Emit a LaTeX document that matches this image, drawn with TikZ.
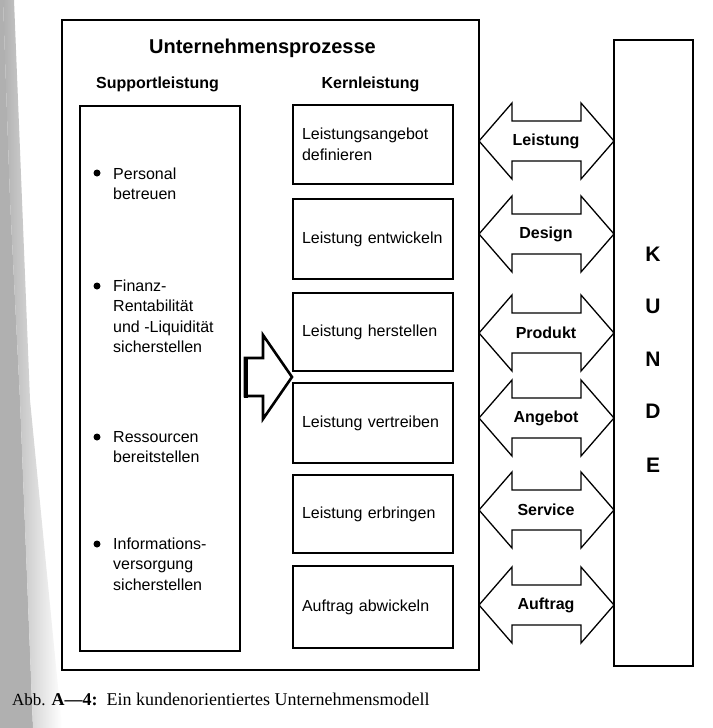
\documentclass[tikz,border=0pt]{standalone}
\usepackage{fontspec}
\setmainfont{Liberation Serif}
\setsansfont{Liberation Sans}
\begin{document}
\begin{tikzpicture}[x=1pt,y=-1pt,
  frame/.style={draw, line width=1.7pt, inner sep=0pt},
  kbox/.style={draw, line width=1.6pt, minimum width=160pt, minimum height=79pt,
    text width=142pt, inner xsep=9pt, align=left,
    font=\sffamily\fontsize{16}{20.5}\selectfont},
  body/.style={font=\sffamily\fontsize{16}{20.5}\selectfont, align=left, inner sep=0pt, anchor=west},
  head/.style={font=\sffamily\bfseries\fontsize{16}{19}\selectfont, inner sep=0pt},
  titletext/.style={font=\sffamily\bfseries\fontsize{20}{24}\selectfont, inner sep=0pt},
  dlabel/.style={font=\sffamily\bfseries\fontsize{16}{19}\selectfont, inner sep=0pt},
  letter/.style={font=\sffamily\bfseries\fontsize{21}{24}\selectfont, inner sep=0pt},
  darrow/.style={draw, line width=1.3pt, line join=miter},
  bulletdot/.style={circle, fill, inner sep=0pt, minimum size=7pt}]
\useasboundingbox (0,0) rectangle (712,728);
\fill[white] (0,0) rectangle (712,728);
% scan shadow on the left edge
\fill[gray!62] (0,0) -- (3,0) -- (10,200) -- (20,400) -- (33,728) -- (0,728) -- cycle;
\shade[left color=gray!62, right color=white] (3,0) -- (14,0) -- (30,400) -- (62,728) -- (33,728) -- (20,400) -- (10,200) -- cycle;

% frames
\node[frame, line width=1.9pt, minimum width=417pt, minimum height=650pt] (outer) at (270.5,345) {};
\node[frame, minimum width=79pt, minimum height=626pt] (kunde) at (653.5,353) {};
\node[frame, line width=1.6pt, minimum width=160pt, minimum height=545pt] (supp) at (160,378.5) {};

% headings
\node[titletext] (title) at (262.5,48) {Unternehmensprozesse};
\node[head] (hsupp) at (157.5,84) {Supportleistung};
\node[head] (hkern) at (370.5,84) {Kernleistung};

% support items
\node[bulletdot] (b1) at (97,173) {};
\node[body] (s1) at (113,184) {Personal\\betreuen};
\node[bulletdot] (b2) at (97,286) {};
\node[body] (s2) at (113,316.5) {Finanz-\\Rentabilität\\und -Liquidität\\sicherstellen};
\node[bulletdot] (b3) at (97,437) {};
\node[body] (s3) at (113,447) {Ressourcen\\bereitstellen};
\node[bulletdot] (b4) at (97,544) {};
\node[body] (s4) at (113,564) {Informations-\\versorgung\\sicherstellen};

% core process boxes
\node[kbox] (k1) at (373,144.5) {Leistungsangebot\\definieren};
\node[kbox, minimum height=80pt] (k2) at (373,239) {Leistung entwickeln};
\node[kbox, minimum height=78pt] (k3) at (373,332) {Leistung herstellen};
\node[kbox, minimum height=80pt] (k4) at (373,423) {Leistung vertreiben};
\node[kbox, minimum height=78pt] (k5) at (373,514) {Leistung erbringen};
\node[kbox, minimum height=82pt] (k6) at (373,607) {Auftrag abwickeln};

% big hollow arrow from support to core
\draw[line width=2.6pt, line join=miter] (245,358) -- (263,358) -- (263,335) -- (292,377) -- (263,419) -- (263,396) -- (245,396) -- cycle;
\draw[line width=4.5pt] (246,357) -- (246,397.5);

% double arrows between process frame and customer
\foreach \yy/\lab/\nm in {141/Leistung/a1, 234/Design/a2, 333/Produkt/a3, 418/Angebot/a4, 510/Service/a5, 605/Auftrag/a6}{
  \draw[darrow] (479,\yy) -- (512,\yy-38) -- (512,\yy-20) -- (581,\yy-20) -- (581,\yy-38)
    -- (614,\yy) -- (581,\yy+38) -- (581,\yy+20) -- (512,\yy+20) -- (512,\yy+38) -- cycle;
  \node[dlabel] (\nm) at (546,\yy) {\lab};
}

% KUNDE
\node[letter] (lk) at (653,254) {K};
\node[letter] (lu) at (653,306) {U};
\node[letter] (ln) at (653,359) {N};
\node[letter] (ld) at (653,411) {D};
\node[letter] (le) at (653,465) {E};

% caption
\node[anchor=base west, inner sep=0pt, font=\rmfamily\fontsize{18}{21}\selectfont] (cap) at (12,705)
  {{\fontsize{17}{19}\selectfont Abb.} \textbf{A—4:}\ \ Ein kundenorientiertes Unternehmensmodell};
\end{tikzpicture}
\end{document}
